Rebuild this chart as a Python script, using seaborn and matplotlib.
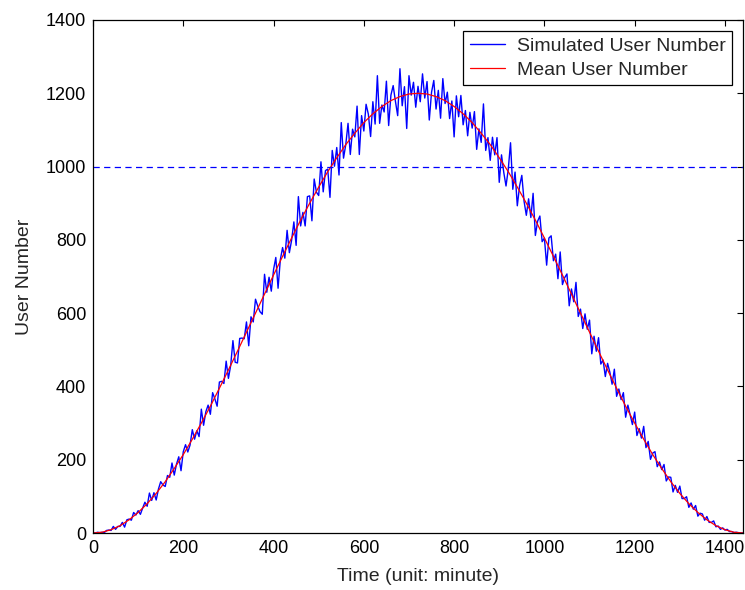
import numpy as np
import pandas as pd
import matplotlib
matplotlib.use("Agg")
import matplotlib.pyplot as plt
import seaborn as sns

# Simulated user number, sampled every 5 minutes (0..1440)
sim_time = list(range(0, 1441, 5))
sim_users = [
    0, 0, 2, 1, 2, 1, 7, 8, 7, 18, 10, 18, 18, 29, 16, 36, 38, 35, 56, 49,
    61, 51, 68, 84, 73, 109, 89, 110, 90, 120, 140, 131, 127, 157, 152, 191, 158, 188, 208, 170,
    222, 241, 221, 240, 282, 256, 279, 263, 338, 294, 331, 349, 324, 383, 366, 346, 412, 414, 408, 469,
    422, 457, 525, 466, 464, 531, 532, 530, 576, 511, 590, 576, 638, 619, 604, 597, 706, 657, 698, 660,
    719, 752, 668, 746, 779, 750, 826, 765, 799, 849, 785, 918, 838, 875, 838, 918, 920, 852, 966, 930,
    921, 1013, 931, 989, 993, 916, 1044, 1001, 1052, 977, 1120, 1023, 1060, 1118, 1033, 1102, 1081, 1165, 1033, 1139,
    1097, 1170, 1143, 1082, 1177, 1116, 1248, 1118, 1168, 1149, 1233, 1112, 1195, 1221, 1178, 1139, 1267, 1166, 1218, 1104,
    1248, 1195, 1230, 1162, 1219,
    1177, 1253, 1187, 1232, 1127, 1203, 1235, 1157, 1208, 1132, 1240, 1172, 1203, 1131, 1179,
    1081, 1193, 1136, 1194, 1114, 1153, 1084, 1148, 1105, 1150, 1047, 1103, 1066, 1171, 1044, 1079, 1017, 1080, 1032, 1079,
    957, 1032, 984, 947, 993, 1065, 938, 985, 893, 947, 976, 905, 867, 912, 861, 927, 812, 851, 865, 795,
    805, 731, 805, 811, 743, 761, 694, 767, 678, 697, 707, 620, 666, 631, 684, 591, 611, 558, 598, 556,
    581, 489, 537, 496, 533, 461, 472, 427, 463, 439, 406, 447, 373, 393, 364, 383, 316, 349, 323, 296,
    330, 266, 285, 259, 291, 233, 250, 201, 218, 222, 181, 194, 173, 187, 142, 153, 152, 112, 130, 111,
    128, 94, 94, 99, 70, 82, 65, 75, 46, 54, 52, 35, 45, 29, 29, 33, 17, 19, 10, 14,
    8, 10, 4, 4, 1, 2, 1, 0, 0,
]

# Mean user number, sampled every 20 minutes (0..1440)
mean_time = list(range(0, 1441, 20))
mean_users = [
    0, 2, 9, 20, 36, 56, 80, 108, 140, 176, 214, 256, 300, 346, 395, 445, 496, 548, 600,
    652, 704, 755, 805, 854, 900, 944, 986, 1024, 1060, 1091, 1120, 1144, 1164, 1180, 1191, 1198, 1200,
    1198, 1191, 1180, 1164, 1144, 1120, 1091, 1060, 1024, 986, 944, 900, 854, 805, 755, 704, 652,
    600, 548, 496, 445, 395, 346, 300, 256, 214, 176, 140, 108, 80, 56, 36, 20, 9, 2, 0,
]

threshold = 1000
x_ticks = [0, 200, 400, 600, 800, 1000, 1200, 1400]
y_ticks = [0, 200, 400, 600, 800, 1000, 1200, 1400]

sns.set_style("white")
plt.rcParams["font.family"] = ["Liberation Sans", "DejaVu Sans"]

fig = plt.figure(figsize=(7.45, 5.9), dpi=100)
ax = fig.add_axes([93 / 745, 57 / 590, 650 / 745, 513 / 590])

sim_df = pd.DataFrame({"t": sim_time, "u": sim_users})
mean_df = pd.DataFrame({"t": mean_time, "u": mean_users})

sns.lineplot(data=sim_df, x="t", y="u", ax=ax, color="#0000ff", linewidth=1.0,
             label="Simulated User Number", estimator=None, sort=False)
sns.lineplot(data=mean_df, x="t", y="u", ax=ax, color="#ff0000", linewidth=0.9,
             label="Mean User Number", estimator=None, sort=False)
ax.axhline(threshold, color="#0000ff", linewidth=0.9, linestyle=(0, (5, 3.5)))

ax.set_xlim(0, 1440)
ax.set_ylim(0, 1400)
ax.set_xticks(x_ticks)
ax.set_yticks(y_ticks)
ax.tick_params(direction="in", length=4.5, width=0.8, top=True, right=True,
               labelsize=13, colors="black", pad=5)
for sp in ax.spines.values():
    sp.set_visible(True)
    sp.set_color("black")
    sp.set_linewidth(0.9)

ax.set_xlabel("Time (unit: minute)", fontsize=14, labelpad=8)
ax.set_ylabel("User Number", fontsize=14, labelpad=9)

leg = ax.legend(loc="upper right", fontsize=14, frameon=True, fancybox=False,
                edgecolor="black", framealpha=1, handlelength=1.8, handletextpad=0.6,
                borderaxespad=0.55, borderpad=0.35, labelspacing=0.3)
leg.get_frame().set_linewidth(0.9)

fig.savefig("out.png", dpi=100)
